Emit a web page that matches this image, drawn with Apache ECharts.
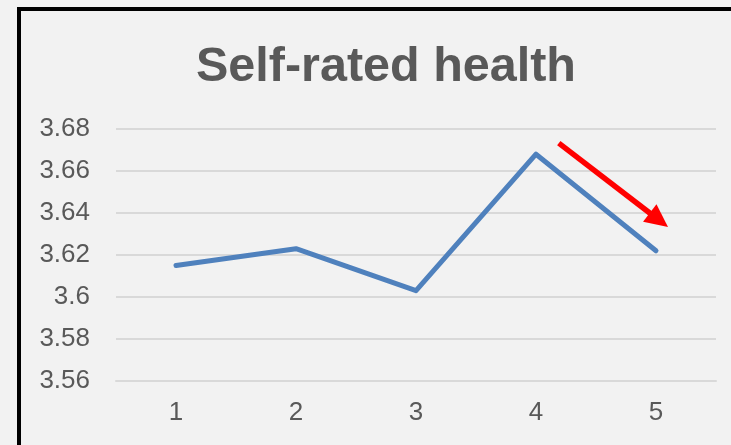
<!DOCTYPE html>
<html>
<head>
<meta charset="utf-8">
<script src="https://cdn.jsdelivr.net/npm/echarts@6/dist/echarts.min.js"></script>
<style>
  html, body { margin: 0; padding: 0; background: #f2f2f2; }
  #main { width: 731px; height: 445px; }
</style>
</head>
<body>
<div id="main"></div>
<script>
// data
var categories = ['1', '2', '3', '4', '5'];
var healthScores = [3.615, 3.623, 3.603, 3.668, 3.622];
var yMin = 3.56, yMax = 3.68, yStep = 0.02;
// red trend arrow, in data terms (category index, value)
var arrowFrom = [3.19, 3.6733];
var arrowTo = [4.1, 3.6333];

var chart = echarts.init(document.getElementById('main'));
var labelFont = 'Liberation Sans, Arial, sans-serif';

var option = {
    backgroundColor: '#f2f2f2',
    animation: false,
    title: {
        text: 'Self-rated health',
        left: 191,
        top: 38,
        textStyle: {
            fontFamily: labelFont,
            fontSize: 48.5,
            fontWeight: 'bold',
            color: '#595959'
        }
    },
    grid: { left: 116, right: 15, top: 129, bottom: 64 },
    xAxis: {
        type: 'category',
        data: categories,
        boundaryGap: true,
        axisLine: { show: true, lineStyle: { color: '#d9d9d9', width: 2 } },
        axisTick: { show: false },
        axisLabel: { margin: 19, fontFamily: labelFont, fontSize: 26, color: '#595959' }
    },
    yAxis: {
        type: 'value',
        min: yMin,
        max: yMax,
        interval: yStep,
        axisLine: { show: false },
        axisTick: { show: false },
        axisLabel: { margin: 26, fontFamily: labelFont, fontSize: 26, color: '#595959' },
        splitLine: { lineStyle: { color: '#d9d9d9', width: 2 } }
    },
    series: [{
        type: 'line',
        data: healthScores,
        symbol: 'none',
        lineStyle: { color: '#4f81bd', width: 5, cap: 'round', join: 'round' }
    }]
};
chart.setOption(option);

// arrow + frame drawn after the scales exist
function toPx(pt) {
    var i = Math.floor(pt[0]);
    var a = chart.convertToPixel({ gridIndex: 0 }, [i, pt[1]]);
    var b = chart.convertToPixel({ gridIndex: 0 }, [i + 1, pt[1]]);
    return [a[0] + (b[0] - a[0]) * (pt[0] - i), a[1]];
}
var p0 = toPx(arrowFrom), p1 = toPx(arrowTo);
var dx = p1[0] - p0[0], dy = p1[1] - p0[1];
var len = Math.sqrt(dx * dx + dy * dy);
var ux = dx / len, uy = dy / len;
var headLen = 23, headHalf = 11;
var base = [p1[0] - ux * headLen, p1[1] - uy * headLen];

chart.setOption({
    graphic: [
        {
            type: 'rect',
            shape: { x: 19, y: 9, width: 800, height: 500 },
            style: { fill: null, stroke: '#000', lineWidth: 4 },
            silent: true
        },
        {
            type: 'line',
            shape: { x1: p0[0], y1: p0[1], x2: base[0] + ux * 2, y2: base[1] + uy * 2 },
            style: { stroke: '#ff0000', lineWidth: 5.5 },
            silent: true
        },
        {
            type: 'polygon',
            shape: {
                points: [
                    p1,
                    [base[0] - uy * headHalf, base[1] + ux * headHalf],
                    [base[0] + uy * headHalf, base[1] - ux * headHalf]
                ]
            },
            style: { fill: '#ff0000' },
            silent: true
        }
    ]
});
</script>
</body>
</html>
